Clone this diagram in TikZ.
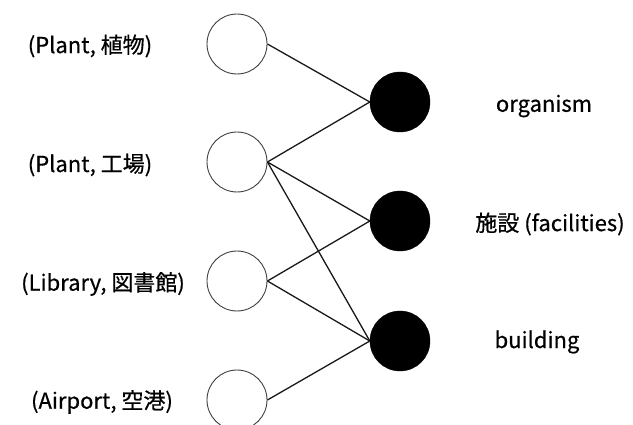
\documentclass[tikz,border=0pt]{standalone}
\usepackage{fontspec}
\setmainfont{Noto Sans CJK JP}[FakeBold=0.6]
\begin{document}
\begin{tikzpicture}[x=1pt,y=-1pt,
  word/.style={circle,draw=black!75,line width=0.9pt,fill=white,minimum size=60pt,inner sep=0pt},
  sense/.style={circle,draw=black,fill=black,minimum size=60pt,inner sep=0pt},
  lbl/.style={font=\fontsize{22}{26}\selectfont,inner sep=0pt},
  link/.style={line width=1.3pt,black!90}]
\useasboundingbox (0,0) rectangle (633,425);
% word nodes (left column)
\node[word] (w1) at (237,44) {};
\node[word] (w2) at (237,162) {};
\node[word] (w3) at (237,281) {};
\node[word] (w4) at (237,400) {};
% sense nodes (right column)
\node[sense] (s1) at (400,102) {};
\node[sense] (s2) at (400,221) {};
\node[sense] (s3) at (400,341) {};
% labels
\node[lbl] (l1) at (90,46) {(Plant, 植物)};
\node[lbl] (l2) at (90,165) {(Plant, 工場)};
\node[lbl] (l3) at (103,284) {(Library, 図書館)};
\node[lbl] (l4) at (102,402) {(Airport, 空港)};
\node[lbl] (r1) at (544,106) {organism};
\node[lbl] (r2) at (550,224) {施設 (facilities)};
\node[lbl] (r3) at (537,342) {building};
% links
\draw[link] (w1.east) -- (s1.west);
\draw[link] (w2.east) -- (s1.west);
\draw[link] (w2.east) -- (s2.west);
\draw[link] (w2.east) -- (s3.west);
\draw[link] (w3.east) -- (s2.west);
\draw[link] (w3.east) -- (s3.west);
\draw[link] (w4.east) -- (s3.west);
\end{tikzpicture}
\end{document}
